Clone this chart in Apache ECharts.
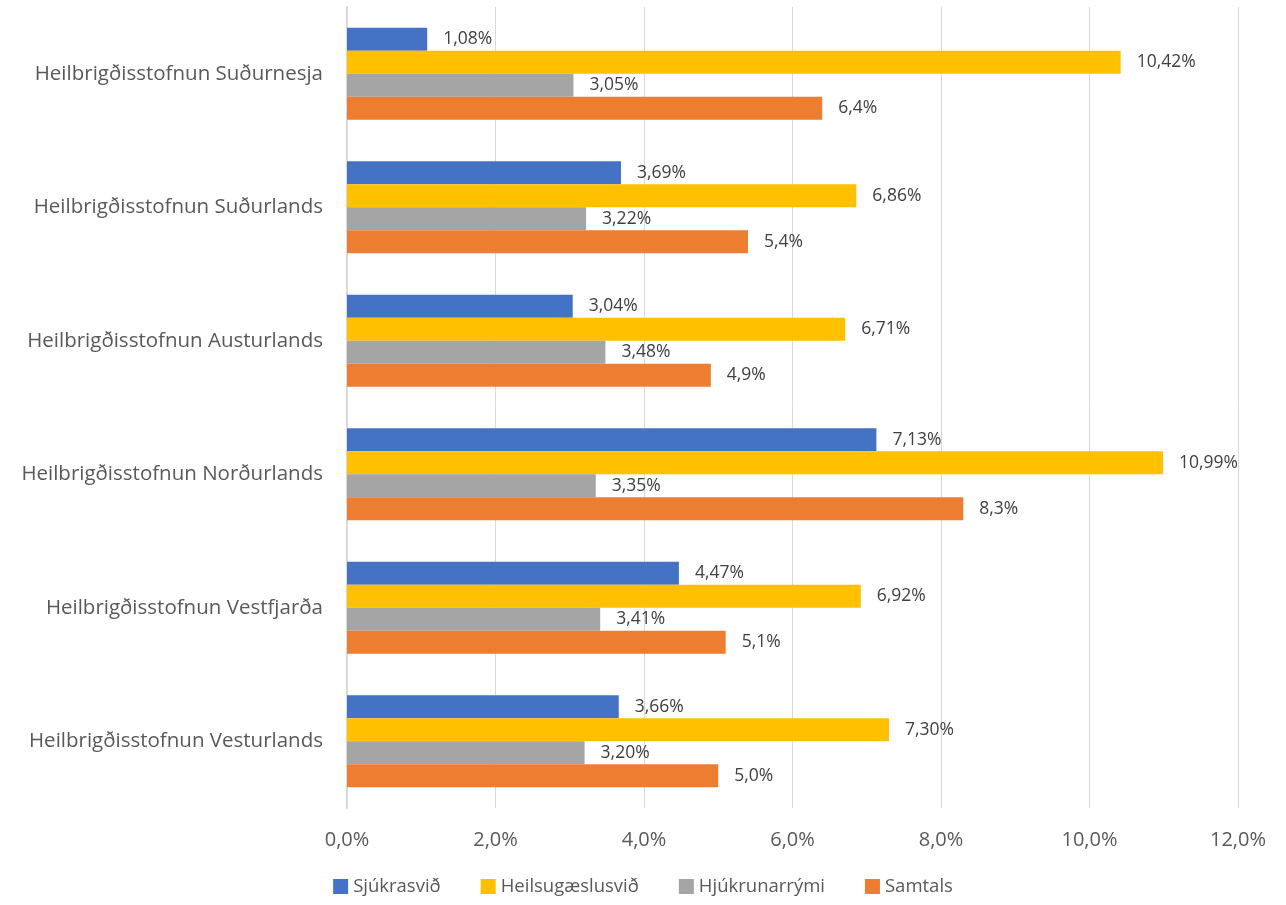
<!DOCTYPE html>
<html>
<head>
<meta charset="utf-8">
<script src="https://cdn.jsdelivr.net/npm/echarts@6/dist/echarts.min.js"></script>
<style>
  html, body { margin: 0; padding: 0; background: #fff; }
  #chart { width: 1286px; height: 905px; }
</style>
</head>
<body>
<div id="chart"></div>
<script>
// stofnanir, ofan frá og niður
var categories = ['Heilbrigðisstofnun Suðurnesja', 'Heilbrigðisstofnun Suðurlands', 'Heilbrigðisstofnun Austurlands',
    'Heilbrigðisstofnun Norðurlands', 'Heilbrigðisstofnun Vestfjarða', 'Heilbrigðisstofnun Vesturlands'];
var sjukrasvid = [1.08, 3.69, 3.04, 7.13, 4.47, 3.66];
var heilsugaeslusvid = [10.42, 6.86, 6.71, 10.99, 6.92, 7.30];
var hjukrunarrymi = [3.05, 3.22, 3.48, 3.35, 3.41, 3.20];
var samtals = [6.4, 5.4, 4.9, 8.3, 5.1, 5.0];
var xTicks = [0, 2, 4, 6, 8, 10, 12];

var chart = echarts.init(document.getElementById('chart'));
var font = '"Open Sans", "Noto Sans", sans-serif';

function pct(v, dec) {
    return v.toFixed(dec).replace('.', ',') + '%';
}

function makeSeries(name, data, color, dec) {
    return {
        name: name,
        type: 'bar',
        data: data,
        barGap: '0%',
        barCategoryGap: '31%',
        itemStyle: { color: color },
        label: {
            show: true,
            position: 'right',
            distance: 16,
            color: '#404040',
            fontSize: 17.5,
            fontFamily: font,
            formatter: function (p) { return pct(p.value, dec); }
        }
    };
}

var option = {
    animation: false,
    grid: { left: 347, right: 48, top: 7, bottom: 97, containLabel: false },
    legend: {
        bottom: 4,
        left: 'center',
        itemWidth: 15,
        itemHeight: 15,
        itemGap: 40,
        icon: 'rect',
        textStyle: { color: '#595959', fontSize: 18.5, fontFamily: font },
        data: ['Sjúkrasvið', 'Heilsugæslusvið', 'Hjúkrunarrými', 'Samtals']
    },
    xAxis: {
        type: 'value',
        min: xTicks[0],
        max: xTicks[xTicks.length - 1],
        interval: 2,
        axisLine: { show: false },
        axisTick: { show: false },
        splitLine: { lineStyle: { color: '#d9d9d9', width: 1 } },
        axisLabel: {
            margin: 22,
            color: '#595959',
            fontSize: 20,
            fontFamily: font,
            formatter: function (v) { return pct(v, 1); }
        }
    },
    yAxis: {
        type: 'category',
        inverse: true,
        data: categories,
        axisLine: { show: true, lineStyle: { color: '#d9d9d9', width: 2 } },
        axisTick: { show: false },
        axisLabel: {
            margin: 24,
            color: '#595959',
            fontSize: 20.5,
            fontFamily: font
        }
    },
    series: [
        makeSeries('Sjúkrasvið', sjukrasvid, '#4472C4', 2),
        makeSeries('Heilsugæslusvið', heilsugaeslusvid, '#FFC000', 2),
        makeSeries('Hjúkrunarrými', hjukrunarrymi, '#A5A5A5', 2),
        makeSeries('Samtals', samtals, '#ED7D31', 1)
    ]
};

chart.setOption(option, true);
</script>
</body>
</html>
